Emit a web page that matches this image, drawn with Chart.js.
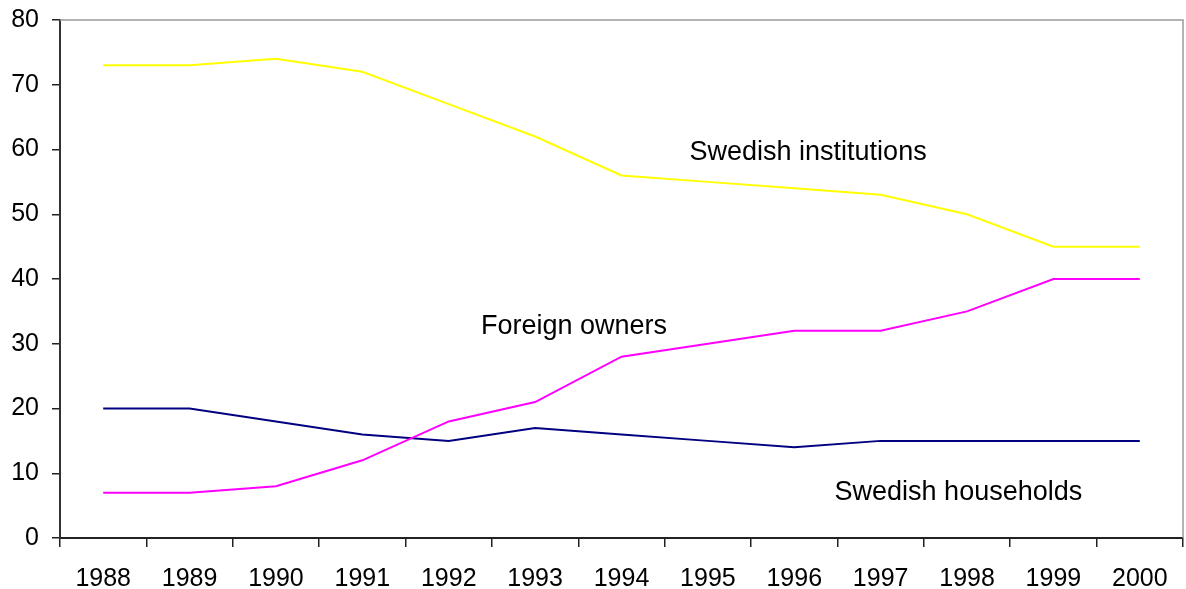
<!DOCTYPE html>
<html>
<head>
<meta charset="utf-8">
<script src="https://cdn.jsdelivr.net/npm/chart.js@4/dist/chart.umd.min.js"></script>
<style>
  html,body{margin:0;padding:0;background:#fff;}
  #wrap{width:1186px;height:589px;}
</style>
</head>
<body>
<div id="wrap"><canvas id="c" width="1186" height="589"></canvas></div>
<script>
/* data */
const years = ['1988','1989','1990','1991','1992','1993','1994','1995','1996','1997','1998','1999','2000'];
const institutions = [73,73,74,72,67,62,56,55,54,53,50,45,45];
const foreign      = [7,7,8,12,18,21,28,30,32,32,35,40,40];
const households   = [20,20,18,16,15,17,16,15,14,15,15,15,15];

/* in-plot labels: [text, category index, value] */
const seriesLabels = [
  ['Swedish institutions', 8.16, 59.6],
  ['Foreign owners', 5.45, 32.6],
  ['Swedish households', 9.9, 7.0]
];

const font = 'Arial, "Liberation Sans", sans-serif';

/* gray frame on top and right, plus text labels */
const extras = {
  id:'extras',
  afterDatasetsDraw(chart){
    const {ctx, chartArea:a, scales:{x,y}} = chart;
    ctx.save();
    ctx.strokeStyle = '#9a9a9a';
    ctx.lineWidth = 1.5;
    ctx.beginPath();
    ctx.moveTo(a.left, a.top); ctx.lineTo(a.right, a.top); ctx.lineTo(a.right, a.bottom);
    ctx.stroke();
    ctx.fillStyle = '#000';
    ctx.font = '27px ' + font;
    ctx.textAlign = 'center';
    ctx.textBaseline = 'middle';
    seriesLabels.forEach(([t, i, v])=>{
      ctx.fillText(t, x.getPixelForValue(i), y.getPixelForValue(v));
    });
    ctx.restore();
  }
};

new Chart(document.getElementById('c'), {
  type:'line',
  data:{ labels:years, datasets:[
    { label:'Swedish institutions', data:institutions, borderColor:'#ffff00', borderWidth:2, pointRadius:0, tension:0 },
    { label:'Foreign owners', data:foreign, borderColor:'#ff00ff', borderWidth:2, pointRadius:0, tension:0 },
    { label:'Swedish households', data:households, borderColor:'#000080', borderWidth:2, pointRadius:0, tension:0 }
  ]},
  options:{
    responsive:false,
    animation:false,
    layout:{ padding:{ top:20, right:3, bottom:0, left:0 } },
    plugins:{ legend:{display:false}, tooltip:{enabled:false} },
    scales:{
      x:{
        offset:true,
        afterFit(s){ s.height = 51; s.paddingRight = 0; },
        grid:{ offset:true, drawOnChartArea:false, tickLength:9, color:'#222', lineWidth:1.5 },
        border:{ color:'#222', width:2 },
        ticks:{ color:'#000', font:{ family:font, size:25 }, padding:17, maxRotation:0, autoSkip:false }
      },
      y:{
        min:0, max:80,
        afterFit(s){ s.width = 60; s.paddingTop = 0; s.paddingBottom = 0; },
        grid:{ drawOnChartArea:false, tickLength:8, color:'#222', lineWidth:1.5 },
        border:{ color:'#333', width:2 },
        ticks:{ stepSize:10, color:'#000', font:{ family:font, size:25 }, padding:13 }
      }
    }
  },
  plugins:[extras]
});
</script>
</body>
</html>
